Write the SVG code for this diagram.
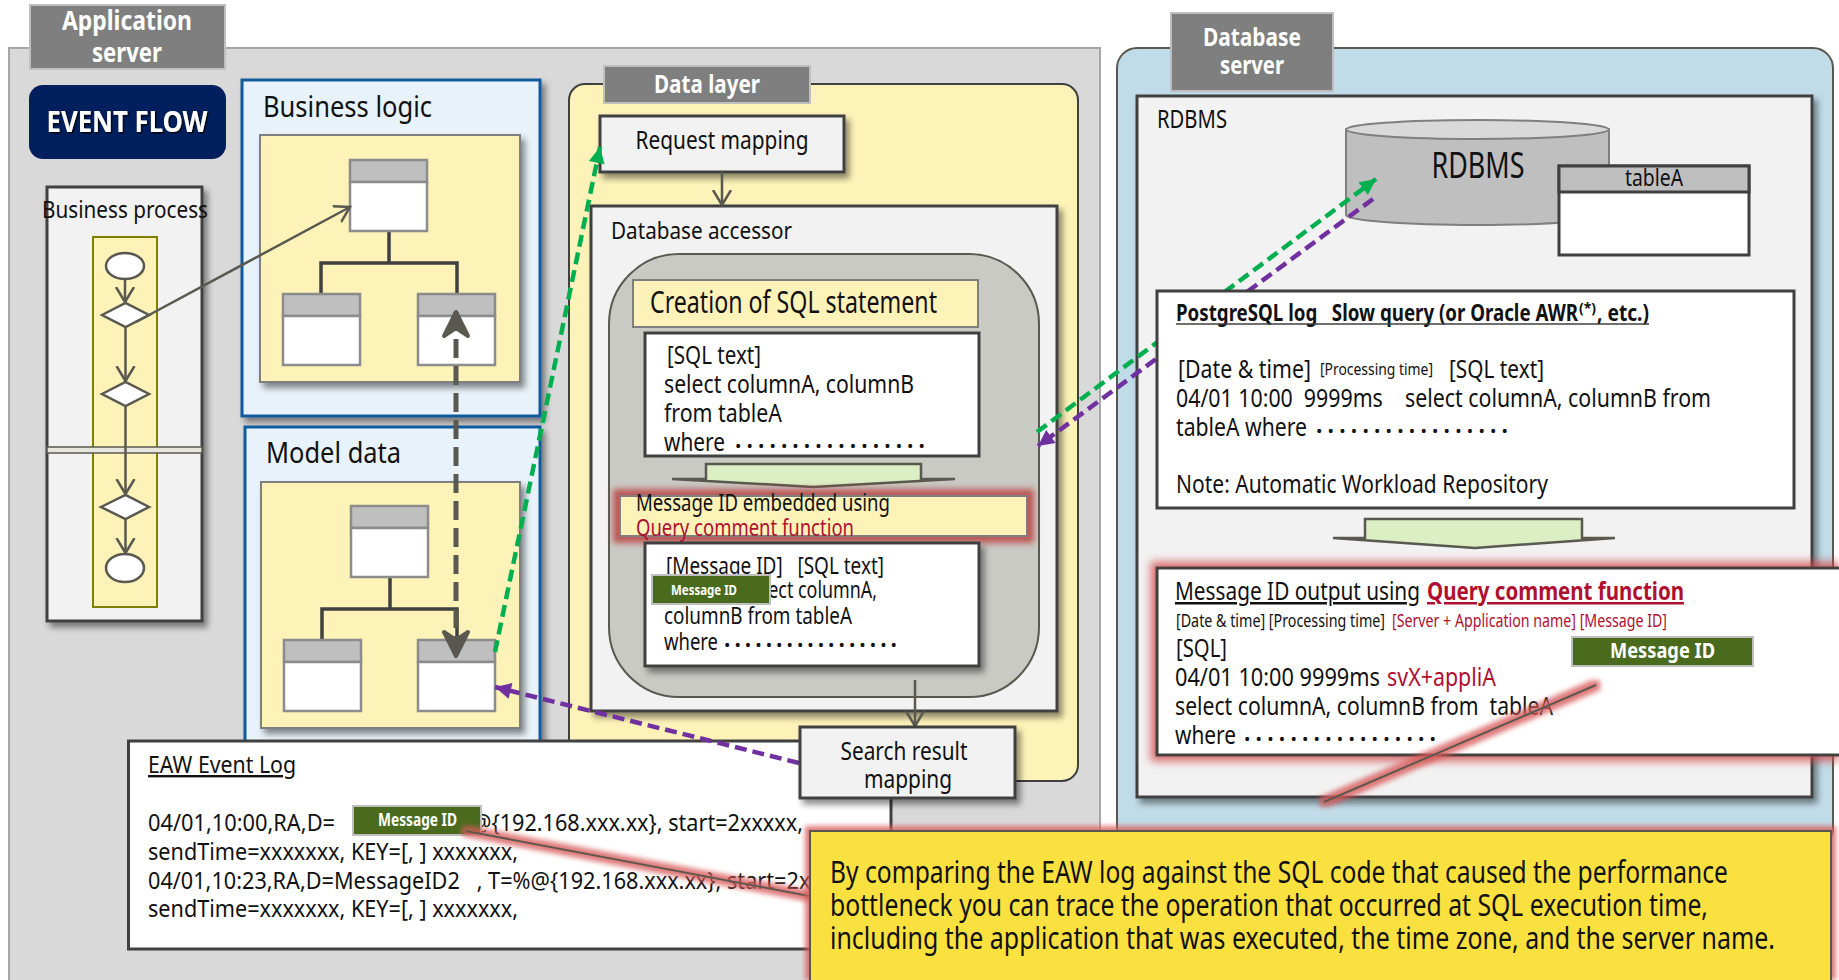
<svg xmlns="http://www.w3.org/2000/svg" width="1839" height="980" viewBox="0 0 1839 980">
<style>
text{font-family:"Noto Sans","Liberation Sans",sans-serif;fill:#111;white-space:pre}
.w{fill:#fff}.b{font-weight:700}.r{fill:#b01030}.m{text-anchor:middle}.u{text-decoration:underline}
.cont{stroke:#595950;stroke-width:2}
.lbl{fill:#7f7f7f;stroke:#bfbfbf;stroke-width:2}
.pane{fill:#f2f2f2;stroke:#404040;stroke-width:3;filter:url(#sh)}
.wbox{fill:#fff;stroke:#404040;stroke-width:3}
.blue{fill:#e8f2fa;stroke:#0f5a9c;stroke-width:3;filter:url(#sh)}
.yel{fill:#fdf2b8;stroke:#7f7f7f;stroke-width:2;filter:url(#sh)}
.ch{fill:#bfbfbf;stroke:#8c8c8c;stroke-width:2.5}.cb{fill:#fff;stroke:#8c8c8c;stroke-width:2.5}
.tree{fill:none;stroke:#404040;stroke-width:3.5}
.shape{fill:#fff;stroke:#595950;stroke-width:2.5}
.flow{fill:none;stroke:#595950;stroke-width:2.5;marker-end:url(#open)}
.gr{fill:none;stroke:#00b050;stroke-width:4.5;stroke-dasharray:12 6}
.pu{fill:none;stroke:#7030a0;stroke-width:4.5;stroke-dasharray:12 6}
.big{fill:none;stroke:#595950;stroke-width:5;stroke-dasharray:19 8;marker-start:url(#bigh);marker-end:url(#bigh)}
.blk{fill:#dbeec4;stroke:#595950;stroke-width:2.5}
.tag{fill:#4a6b1e;stroke:#bfbfbf;stroke-width:2}
.call{fill:none;stroke:#595950;stroke-width:2;filter:url(#pink)}
</style>
<defs>
<filter id="sh" filterUnits="userSpaceOnUse" x="0" y="0" width="1839" height="980"><feDropShadow dx="4" dy="5" stdDeviation="3" flood-color="#000" flood-opacity=".45"/></filter>
<filter id="ts" x="-5%" y="-20%" width="110%" height="140%"><feDropShadow dx="1.5" dy="1.5" stdDeviation=".6" flood-color="#000" flood-opacity=".8"/></filter>
<filter id="glow" filterUnits="userSpaceOnUse" x="0" y="0" width="1839" height="980"><feMorphology in="SourceAlpha" operator="dilate" radius="6" result="d"/><feGaussianBlur in="d" stdDeviation="3" result="g"/><feFlood flood-color="#b83a3a" flood-opacity=".8"/><feComposite in2="g" operator="in" result="c"/><feMerge><feMergeNode in="c"/><feMergeNode in="SourceGraphic"/></feMerge></filter>
<filter id="soft" filterUnits="userSpaceOnUse" x="0" y="0" width="1839" height="980"><feMorphology in="SourceAlpha" operator="dilate" radius="5" result="d"/><feGaussianBlur in="d" stdDeviation="4" result="g"/><feFlood flood-color="#d04545" flood-opacity=".75"/><feComposite in2="g" operator="in" result="c"/><feMerge><feMergeNode in="c"/><feMergeNode in="SourceGraphic"/></feMerge></filter>
<filter id="pink" filterUnits="userSpaceOnUse" x="0" y="0" width="1839" height="980"><feMorphology in="SourceAlpha" operator="dilate" radius="4" result="d"/><feGaussianBlur in="d" stdDeviation="2.5" result="g"/><feFlood flood-color="#d85a5a" flood-opacity=".8"/><feComposite in2="g" operator="in" result="c"/><feMerge><feMergeNode in="c"/><feMergeNode in="SourceGraphic"/></feMerge></filter>
<marker id="open" markerUnits="userSpaceOnUse" markerWidth="30" markerHeight="30" refX="15" refY="15" orient="auto"><path d="M0,6 L15,15 L0,24" fill="none" stroke="#595950" stroke-width="2.5"/></marker>
<marker id="gh" markerUnits="userSpaceOnUse" markerWidth="24" markerHeight="24" refX="20" refY="12" orient="auto"><path d="M20,12 L4,4 L4,20 Z" fill="#00b050"/></marker>
<marker id="ph" markerUnits="userSpaceOnUse" markerWidth="24" markerHeight="24" refX="20" refY="12" orient="auto"><path d="M20,12 L4,4 L4,20 Z" fill="#7030a0"/></marker>
<marker id="bigh" markerUnits="userSpaceOnUse" markerWidth="50" markerHeight="40" refX="40" refY="20" orient="auto-start-reverse"><path d="M40,20 L16,8 L24,20 L16,32 Z" fill="#595950" stroke="#595950" stroke-width="4" stroke-linejoin="round"/></marker>
<g id="cls"><rect class="ch" x="0" y="0" width="77" height="22"/><rect class="cb" x="0" y="22" width="77" height="49"/></g>
</defs>

<g id="application-server">
<rect x="9" y="48" width="1091" height="940" fill="#d9d9d9" stroke="#a6a6a6" stroke-width="2"/>
<rect class="lbl" x="30" y="5" width="195" height="64"/>
<text class="w b m" x="127" y="30" font-size="27" textLength="130" lengthAdjust="spacingAndGlyphs">Application</text>
<text class="w b m" x="127" y="62" font-size="27" textLength="70" lengthAdjust="spacingAndGlyphs">server</text>
</g>
<g id="database-server">
<rect class="cont" x="1117" y="48" width="716" height="800" rx="20" fill="#c0dce8"/>
<rect class="lbl" x="1171" y="13" width="162" height="78"/>
<text class="w b m" x="1252" y="46" font-size="25" textLength="98" lengthAdjust="spacingAndGlyphs">Database</text>
<text class="w b m" x="1252" y="74" font-size="25" textLength="64" lengthAdjust="spacingAndGlyphs">server</text>
</g>
<g id="event-flow">
<rect x="29" y="85" width="197" height="74" rx="14" fill="#001f5c"/>
<text class="w b m" x="127" y="132" font-size="28" textLength="161" lengthAdjust="spacingAndGlyphs" filter="url(#ts)">EVENT FLOW</text>
</g>
<g id="business-process">
<rect class="pane" x="47" y="187" width="155" height="434"/>
<rect x="93" y="237" width="64" height="370" fill="#fdf2b8" stroke="#7f7f00" stroke-width="2"/>
<rect x="47" y="447" width="155" height="6" fill="#e6e6df" stroke="#595950" stroke-width="1.5"/>
<text x="42" y="218" font-size="24" textLength="166" lengthAdjust="spacingAndGlyphs">Business process</text>
<ellipse class="shape" cx="125" cy="266" rx="19" ry="13"/>
<path class="shape" d="M102,315 L125.500,303 L149,315 L125.500,327 Z"/>
<path class="shape" d="M102,394 L125.500,382 L149,394 L125.500,406 Z"/>
<path class="shape" d="M101,507 L125.500,495 L149,507 L125.500,519 Z"/>
<ellipse class="shape" cx="125" cy="568" rx="19" ry="14"/>
</g>
<g id="business-logic">
<rect class="blue" x="242" y="80" width="298" height="336"/>
<text x="263" y="117" font-size="29" textLength="169" lengthAdjust="spacingAndGlyphs">Business logic</text>
<rect class="yel" x="260" y="135" width="260" height="247"/>
<path class="tree" d="M389,231 V263 M321,294 V263 H457 V294"/>
<use href="#cls" x="350" y="160"/><use href="#cls" x="283" y="294"/><use href="#cls" x="418" y="294"/>
</g>
<g id="model-data">
<rect class="blue" x="245" y="427" width="295" height="330"/>
<text x="266" y="463" font-size="29" textLength="135" lengthAdjust="spacingAndGlyphs">Model data</text>
<rect class="yel" x="261" y="482" width="259" height="246"/>
<path class="tree" d="M390,577 V609 M322,640 V609 H457 V640"/>
<use href="#cls" x="351" y="506"/><use href="#cls" x="284" y="640"/><use href="#cls" x="418" y="640"/>
</g>
<g id="data-layer">
<rect x="569" y="84" width="509" height="697" rx="16" fill="#fdf2b8" stroke="#404040" stroke-width="2"/>
<rect class="lbl" x="604" y="66" width="206" height="37"/>
<text class="w b m" x="707" y="93" font-size="25" textLength="106" lengthAdjust="spacingAndGlyphs">Data layer</text>
</g>
<g id="request-mapping">
<rect class="pane" x="600" y="116" width="244" height="56"/>
<text class="m" x="722" y="149" font-size="26" textLength="173" lengthAdjust="spacingAndGlyphs">Request mapping</text>
</g>
<g id="database-accessor">
<rect class="pane" x="591" y="206" width="466" height="505"/>
<text x="611" y="239" font-size="24" textLength="181" lengthAdjust="spacingAndGlyphs">Database accessor</text>
<rect x="609" y="254" width="430" height="443" rx="70" fill="#c9cac4" stroke="#595950" stroke-width="2"/>
</g>
<g id="creation-sql">
<rect x="633" y="280" width="345" height="47" fill="#fdf2b8" stroke="#7f7f7f" stroke-width="2"/>
<text x="650" y="313" font-size="31" textLength="287" lengthAdjust="spacingAndGlyphs">Creation of SQL statement</text>
</g>
<g id="sql-text">
<rect class="wbox" x="645" y="333" width="334" height="123"/>
<text x="667" y="364" font-size="26" textLength="94" lengthAdjust="spacingAndGlyphs">[SQL text]</text>
<text x="664" y="393" font-size="26" textLength="250" lengthAdjust="spacingAndGlyphs">select columnA, columnB</text>
<text x="664" y="422" font-size="26" textLength="118" lengthAdjust="spacingAndGlyphs">from tableA</text>
<text x="664" y="451" font-size="26" textLength="61" lengthAdjust="spacingAndGlyphs">where</text>
<text x="735" y="452" font-size="17" textLength="190">•••••••••••••••••</text>
</g>
<path id="down-arrow-1" class="blk" d="M706,464 H921 V479 H955 L813,487 L672,479 H706 Z"/>
<g id="message-id-embedded">
<rect x="620" y="496" width="407" height="40" fill="#fdf2b8" stroke="#7f7f7f" stroke-width="2" filter="url(#glow)"/>
<text x="636" y="511" font-size="24" textLength="254" lengthAdjust="spacingAndGlyphs">Message ID embedded using</text>
<text class="r" x="636" y="536" font-size="24" textLength="218" lengthAdjust="spacingAndGlyphs">Query comment function</text>
</g>
<g id="sql-with-id">
<rect class="wbox" x="645" y="543" width="334" height="123" filter="url(#sh)"/>
<text x="666" y="574" font-size="24" textLength="218" lengthAdjust="spacingAndGlyphs">[Message ID]   [SQL text]</text>
<text x="745" y="598" font-size="24" textLength="132" lengthAdjust="spacingAndGlyphs">select columnA,</text>
<text x="664" y="624" font-size="24" textLength="188" lengthAdjust="spacingAndGlyphs">columnB from tableA</text>
<text x="664" y="650" font-size="24" textLength="54" lengthAdjust="spacingAndGlyphs">where</text>
<text x="724" y="651" font-size="17" textLength="173">•••••••••••••••••</text>
<rect class="tag" x="652" y="575" width="118" height="29"/>
<text class="w b" x="671" y="595" font-size="15" textLength="66" lengthAdjust="spacingAndGlyphs">Message ID</text>
</g>
<g id="rdbms">
<rect class="pane" x="1137" y="96" width="675" height="701"/>
<text x="1157" y="128" font-size="25" textLength="70" lengthAdjust="spacingAndGlyphs">RDBMS</text>
<path d="M1346,129.500 V215 A131.500,10 0 0 0 1609,215 V129.500 Z" fill="#bfbfbf" stroke="#7f7f7f" stroke-width="2"/>
<ellipse cx="1477.500" cy="129.500" rx="131.500" ry="9.500" fill="#d9d9d9" stroke="#7f7f7f" stroke-width="2"/>
<text class="m" x="1478" y="178" font-size="36" textLength="93" lengthAdjust="spacingAndGlyphs">RDBMS</text>
</g>
<g id="table-a">
<rect class="wbox" x="1559" y="166" width="190" height="89"/>
<rect x="1559" y="166" width="190" height="26" fill="#bfbfbf" stroke="#404040" stroke-width="3"/>
<text class="m" x="1654" y="186" font-size="24" textLength="58" lengthAdjust="spacingAndGlyphs">tableA</text>
</g>
<g id="connectors-back">
<path class="gr" d="M1037,432 L1376,179" marker-end="url(#gh)"/>
<path class="pu" d="M1373,199 L1038,446" marker-end="url(#ph)"/>
</g>
<g id="postgres-log">
<rect class="wbox" x="1157" y="291" width="637" height="217"/>
<text class="b" x="1176" y="321" font-size="24" textLength="402" lengthAdjust="spacingAndGlyphs">PostgreSQL log   Slow query (or Oracle AWR</text>
<text class="b" x="1579" y="313" font-size="14" textLength="17" lengthAdjust="spacingAndGlyphs">(*)</text>
<text class="b" x="1597" y="321" font-size="24" textLength="52" lengthAdjust="spacingAndGlyphs">, etc.)</text>
<path d="M1176,324 H1649" stroke="#404040" stroke-width="1.500"/>
<text x="1178" y="378" font-size="25" textLength="133" lengthAdjust="spacingAndGlyphs">[Date &amp; time]</text>
<text x="1320" y="375" font-size="17" textLength="113" lengthAdjust="spacingAndGlyphs">[Processing time]</text>
<text x="1449" y="378" font-size="25" textLength="95" lengthAdjust="spacingAndGlyphs">[SQL text]</text>
<text x="1176" y="407" font-size="25" textLength="535" lengthAdjust="spacingAndGlyphs">04/01 10:00  9999ms    select columnA, columnB from</text>
<text x="1176" y="436" font-size="25" textLength="131" lengthAdjust="spacingAndGlyphs">tableA where</text>
<text x="1316" y="437" font-size="17" textLength="192">•••••••••••••••••</text>
<text x="1176" y="493" font-size="25" textLength="372" lengthAdjust="spacingAndGlyphs">Note: Automatic Workload Repository</text>
</g>
<path id="down-arrow-2" class="blk" d="M1365,519 H1582 V538 H1615 L1475,548 L1333,538 H1365 Z"/>
<g id="message-id-output">
<rect x="1157" y="568" width="700" height="187" fill="#fff" stroke="#404040" stroke-width="3" filter="url(#soft)"/>
<text class="u" x="1175" y="600" font-size="25" textLength="245" lengthAdjust="spacingAndGlyphs">Message ID output using</text>
<text class="r b u" x="1427" y="600" font-size="25" textLength="257" lengthAdjust="spacingAndGlyphs">Query comment function</text>
<text x="1176" y="627" font-size="18" textLength="209" lengthAdjust="spacingAndGlyphs">[Date &amp; time] [Processing time]</text>
<text class="r" x="1392" y="627" font-size="18" textLength="275" lengthAdjust="spacingAndGlyphs">[Server + Application name] [Message ID]</text>
<text x="1176" y="657" font-size="25" textLength="51" lengthAdjust="spacingAndGlyphs">[SQL]</text>
<text x="1175" y="686" font-size="25" textLength="205" lengthAdjust="spacingAndGlyphs">04/01 10:00 9999ms</text>
<text class="r" x="1387" y="686" font-size="25" textLength="109" lengthAdjust="spacingAndGlyphs">svX+appliA</text>
<text x="1175" y="715" font-size="25" textLength="378" lengthAdjust="spacingAndGlyphs">select columnA, columnB from  tableA</text>
<text x="1175" y="744" font-size="25" textLength="61" lengthAdjust="spacingAndGlyphs">where</text>
<text x="1244" y="745" font-size="17" textLength="192">•••••••••••••••••</text>
<rect class="tag" x="1572" y="637" width="181" height="29"/>
<text class="w b" x="1610" y="658" font-size="22" textLength="105" lengthAdjust="spacingAndGlyphs">Message ID</text>
</g>
<g id="eaw-log">
<rect class="wbox" x="128.500" y="741" width="762.500" height="208"/>
<text class="u" x="148" y="773" font-size="24" textLength="148" lengthAdjust="spacingAndGlyphs">EAW Event Log</text>
<text x="148" y="831" font-size="24" textLength="187" lengthAdjust="spacingAndGlyphs">04/01,10:00,RA,D=</text>
<text x="472" y="831" font-size="24" textLength="331" lengthAdjust="spacingAndGlyphs">@{192.168.xxx.xx}, start=2xxxxx,</text>
<text x="148" y="860" font-size="24" textLength="370" lengthAdjust="spacingAndGlyphs">sendTime=xxxxxxx, KEY=[, ] xxxxxxx,</text>
<text x="148" y="889" font-size="24" textLength="714" lengthAdjust="spacingAndGlyphs">04/01,10:23,RA,D=MessageID2   , T=%@{192.168.xxx.xx}, start=2xxxxx,</text>
<text x="148" y="917" font-size="24" textLength="370" lengthAdjust="spacingAndGlyphs">sendTime=xxxxxxx, KEY=[, ] xxxxxxx,</text>
<rect class="tag" x="353" y="806" width="128" height="29"/>
<text class="w b" x="378" y="826" font-size="17" textLength="79" lengthAdjust="spacingAndGlyphs">Message ID</text>
</g>
<g id="connectors">
<path class="flow" d="M125,279 V302"/>
<path class="flow" d="M125.500,327 V381"/>
<path class="flow" d="M125.500,406 V494"/>
<path class="flow" d="M125.500,519 V553"/>
<path class="flow" d="M136,322 L350,207"/>
<path class="flow" d="M722,172 V205"/>
<path class="flow" d="M915,680 V726"/>
<path class="big" d="M456,312 V656"/>
<path class="gr" d="M495,652 L600,147" marker-end="url(#gh)"/>
<path class="pu" d="M799,763 L495,687" marker-end="url(#ph)"/>
</g>
<g id="search-result-mapping">
<rect class="pane" x="800" y="727" width="215" height="71"/>
<text class="m" x="904" y="760" font-size="26" textLength="127" lengthAdjust="spacingAndGlyphs">Search result</text>
<text class="m" x="908" y="788" font-size="26" textLength="88" lengthAdjust="spacingAndGlyphs">mapping</text>
</g>
<g id="callout-lines">
<path class="call" d="M466,831 L809,896"/>
<path class="call" d="M1596,685 L1324,802"/>
</g>
<g id="callout">
<rect x="810" y="831" width="1021" height="160" fill="#fbe13f" stroke="#595950" stroke-width="2" filter="url(#pink)"/>
<text x="830" y="883" font-size="30" textLength="898" lengthAdjust="spacingAndGlyphs">By comparing the EAW log against the SQL code that caused the performance</text>
<text x="830" y="916" font-size="30" textLength="878" lengthAdjust="spacingAndGlyphs">bottleneck you can trace the operation that occurred at SQL execution time,</text>
<text x="830" y="949" font-size="30" textLength="945" lengthAdjust="spacingAndGlyphs">including the application that was executed, the time zone, and the server name.</text>
</g>
</svg>
